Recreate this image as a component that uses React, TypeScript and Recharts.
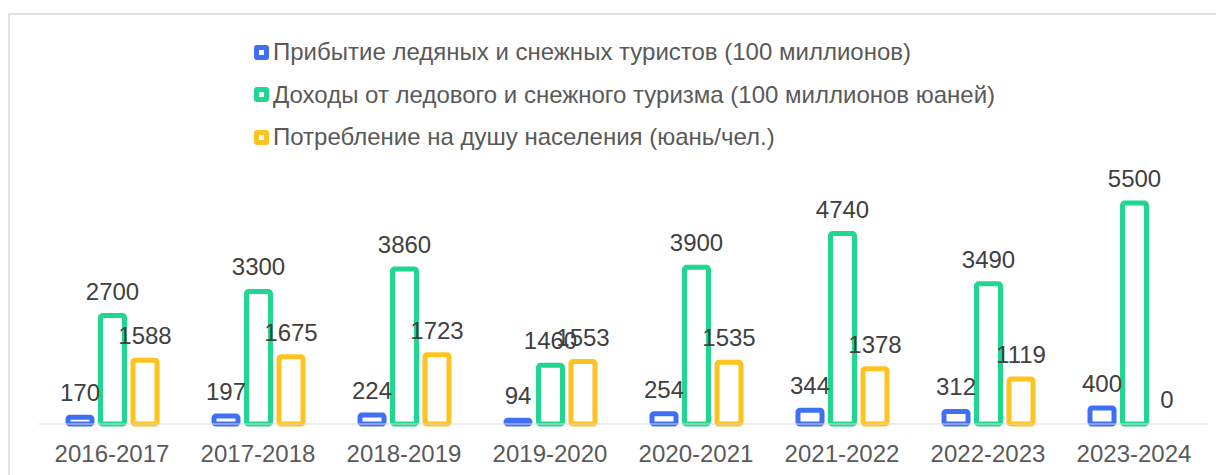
import React from 'react';
import { BarChart, Bar, XAxis, YAxis, Legend, LabelList, Rectangle } from 'recharts';

const categories = ['2016-2017', '2017-2018', '2018-2019', '2019-2020', '2020-2021', '2021-2022', '2022-2023', '2023-2024'];
const touristArrivals = [170, 197, 224, 94, 254, 344, 312, 400];
const tourismRevenue = [2700, 3300, 3860, 1460, 3900, 4740, 3490, 5500];
const perCapitaSpend = [1588, 1675, 1723, 1553, 1535, 1378, 1119, 0];

const seriesNames = [
  'Прибытие ледяных и снежных туристов (100 миллионов)',
  'Доходы от ледового и снежного туризма (100 миллионов юаней)',
  'Потребление на душу населения (юань/чел.)',
];
const colors = ['#3e6ff5', '#20d78f', '#ffc21f'];

const data = categories.map((c, i) => ({
  name: c,
  a: touristArrivals[i],
  b: tourismRevenue[i],
  c: perCapitaSpend[i],
}));

const FONT = '"Liberation Sans", Arial, Helvetica, sans-serif';
const FS = 24;

const renderLegend = () => {
  return (
    <div style={{ fontFamily: FONT }}>
      {seriesNames.map((name, i) => (
        <div key={i} style={{ display: 'flex', alignItems: 'center', height: 42.5 }}>
          <div
            style={{
              width: 15,
              height: 15,
              borderRadius: 3,
              background: colors[i],
              position: 'relative',
              flexShrink: 0,
            }}
          >
            <div style={{ position: 'absolute', left: 5, top: 5, width: 5, height: 5, background: '#fff' }} />
          </div>
          <span style={{ marginLeft: 4, fontSize: FS, color: '#595959', whiteSpace: 'nowrap' }}>{name}</span>
        </div>
      ))}
    </div>
  );
};

const BarShape = (props: any) => {
  if (!props.height || Math.abs(props.height) < 0.5) return <g />;
  return <Rectangle {...props} />;
};

export default function App() {
  return (
    <div style={{ paddingTop: 5 }}>
      <style>{'html,body{overflow:hidden}'}</style>
      <div
        style={{
          width: 1214,
          height: 470,
          borderTop: '2px solid #e2e2e2',
          borderLeft: '2px solid #e2e2e2',
          overflow: 'hidden',
          position: 'relative',
        }}
      >
        <BarChart
          width={1214}
          height={460}
          data={data}
          margin={{ top: 168, right: 17, bottom: 0, left: 29 }}
          barSize={24}
          barGap={8.5}
        >
          <XAxis
            dataKey="name"
            axisLine={{ stroke: '#d9d9d9', strokeWidth: 1 }}
            tickLine={false}
            tickMargin={15}
            height={51}
            tick={{ fill: '#595959', fontSize: FS, fontFamily: FONT }}
            interval={0}
          />
          <YAxis hide domain={[0, 6000]} />
          <Legend
            layout="vertical"
            verticalAlign="middle"
            align="center"
            content={renderLegend}
            wrapperStyle={{ top: 16, left: 244, width: 'auto', height: 'auto' }}
          />
          <Bar dataKey="a" name={seriesNames[0]} fill="#ffffff" stroke={colors[0]} strokeWidth={5} radius={2} isAnimationActive={false}>
            <LabelList dataKey="a" position="top" offset={16} fill="#404040" fontSize={FS} fontFamily={FONT} />
          </Bar>
          <Bar dataKey="b" name={seriesNames[1]} fill="#ffffff" stroke={colors[1]} strokeWidth={5} radius={2} isAnimationActive={false}>
            <LabelList dataKey="b" position="top" offset={16} fill="#404040" fontSize={FS} fontFamily={FONT} />
          </Bar>
          <Bar dataKey="c" name={seriesNames[2]} fill="#ffffff" stroke={colors[2]} strokeWidth={5} radius={2} minPointSize={0.01} shape={BarShape} isAnimationActive={false}>
            <LabelList dataKey="c" position="top" offset={16} fill="#404040" fontSize={FS} fontFamily={FONT} />
          </Bar>
        </BarChart>
      </div>
    </div>
  );
}
